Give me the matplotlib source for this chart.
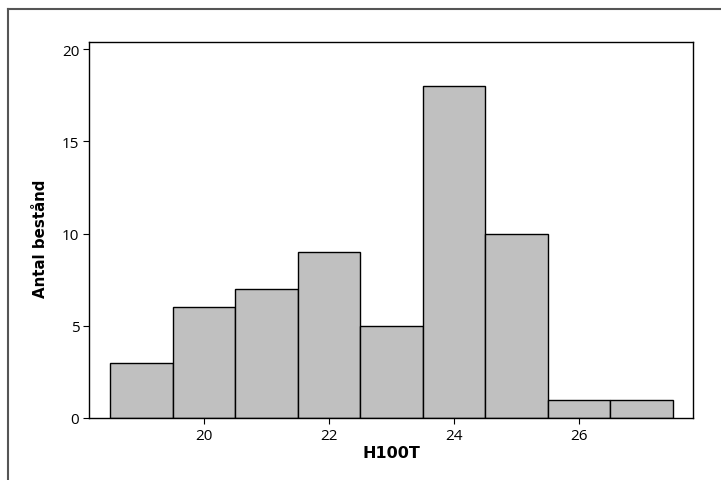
import matplotlib
matplotlib.use('Agg')
import matplotlib.pyplot as plt
from matplotlib.lines import Line2D

# Histogram data
bin_centers = [19, 20, 21, 22, 23, 24, 25, 26, 27]
counts = [3, 6, 7, 9, 5, 18, 10, 1, 1]
x_ticks = [20, 22, 24, 26]
y_ticks = [0, 5, 10, 15, 20]

plt.rcParams['font.family'] = ['Open Sans', 'DejaVu Sans']

fig = plt.figure(figsize=(7.21, 4.81), dpi=100)
ax = fig.add_axes([0.1234, 0.1289, 0.8378, 0.7817])

ax.bar(bin_centers, counts, width=1.0, color='#c0c0c0', edgecolor='black', linewidth=1.0)

ax.set_xlim(18.16, 27.82)
ax.set_ylim(0, 20.38)
ax.set_xticks(x_ticks)
ax.set_yticks(y_ticks)
ax.tick_params(direction='out', length=4, width=0.8, labelsize=11, pad=3)
for s in ax.spines.values():
    s.set_linewidth(1.0)

ax.set_xlabel('H100T', fontsize=11.5, fontweight='bold', family='DejaVu Sans', labelpad=2)
ax.set_ylabel('Antal bestånd', fontsize=10.8, fontweight='bold', family='DejaVu Sans')
ax.yaxis.set_label_coords(-0.068, 0.48)

# outer frame (top and left only)
fig.add_artist(Line2D([8/721, 1.0], [1 - 10/481, 1 - 10/481], color='#555555', linewidth=1.5, transform=fig.transFigure))
fig.add_artist(Line2D([8/721, 8/721], [0.0, 1 - 10/481], color='#555555', linewidth=1.5, transform=fig.transFigure))

fig.savefig('out.png', dpi=100)
